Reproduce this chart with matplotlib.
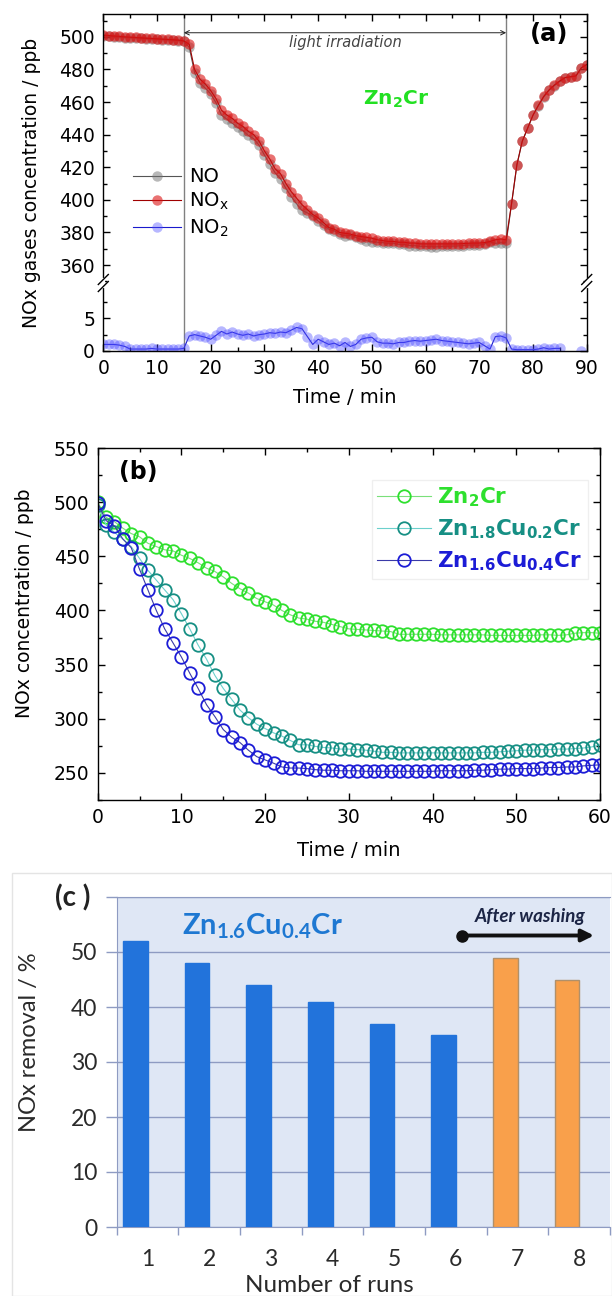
import numpy as np
import matplotlib
matplotlib.use("Agg")
import matplotlib.pyplot as plt
from matplotlib.ticker import MultipleLocator
from matplotlib.lines import Line2D
from matplotlib.patches import Rectangle

plt.rcParams['font.family'] = ['DejaVu Sans']
plt.rcParams['mathtext.default'] = 'regular'

# ---------------- panel (a): Zn2Cr, NO / NOx / NO2 vs time ----------------
time_a = np.arange(0, 91)
nox_a = [501.0, 500.8, 500.5, 500.3, 500.0, 499.8, 499.6, 499.4, 499.2, 499.0,
         498.8, 498.6, 498.4, 498.2, 498.0, 497.5, 495.5, 480, 474, 471,
         467, 462, 455, 452, 450, 447, 445, 442, 440, 436,
         430, 425, 419, 416, 410, 405, 401, 397, 394, 391,
         389, 386, 383, 382, 380, 379.5, 379, 378, 377.5, 377,
         376.5, 375.5, 375, 374.5, 374.5, 374, 374, 373.5, 373.5, 373,
         373, 373, 373, 373, 373, 373, 373, 373.2, 373.4, 373.5,
         373.5, 373.8, 374.5, 375.5, 376, 375.5, 397.5, 421.5, 436, 444,
         452, 458, 463.5, 467.5, 470.5, 473, 475, 475.5, 476, 481, 483]
no_a = [500.5, 500.3, 500.0, 499.8, 499.5, 499.5, 499.3, 499.1, 498.9, 498.7,
        498.5, 498.3, 498.1, 497.9, 497.7, 497.2, 493.5, 478, 471.5, 468.5,
        465, 459.5, 452, 449.5, 447, 444.5, 442.5, 439.5, 437.5, 433.5,
        427.5, 422, 416.5, 413, 407, 402, 397.5, 393.5, 392, 390,
        387, 384.5, 382, 381, 379, 378, 378.2, 377, 375.7, 375,
        374.3, 374, 373.8, 373.3, 373.4, 372.7, 372.7, 372, 371.9, 371.5,
        371.4, 371.3, 371.2, 371.4, 371.5, 371.6, 371.7, 372, 372.3, 372.3,
        372.2, 373, 374.2, 373.3, 373.7, 373.5, 397.2, 421.3, 435.8, 443.8,
        451.8, 457.7, 463.1, 467.2, 470.1, 472.6, 475, 475.5, 476, 481, 483]
no2_a = [1.0, 1.0, 1.0, 0.9, 0.7, 0.3, 0.3, 0.3, 0.3, 0.4,
         0.3, 0.3, 0.3, 0.3, 0.3, 0.4, 2.3, 2.5, 2.3, 2.1,
         1.8, 2.4, 3.0, 2.6, 2.9, 2.6, 2.4, 2.6, 2.3, 2.5,
         2.6, 2.8, 2.7, 2.9, 2.8, 3.2, 3.6, 3.4, 2.2, 1.0,
         1.8, 1.4, 1.0, 1.2, 0.8, 1.3, 0.7, 1.0, 1.8, 2.0,
         2.1, 1.4, 1.2, 1.2, 1.1, 1.3, 1.3, 1.5, 1.6, 1.5,
         1.6, 1.7, 1.8, 1.6, 1.5, 1.4, 1.3, 1.2, 1.1, 1.2,
         1.3, 0.8, 0.3, 2.2, 2.3, 2.0, 0.3, 0.2, 0.2, 0.2,
         0.2, 0.3, 0.5, 0.3, 0.4, 0.4, np.nan, np.nan, np.nan, 0.0, np.nan]
light_on, light_off = 15, 75

# ---------------- panel (b): NOx vs time for three catalysts ----------------
time_b = np.arange(0, 61)
zn2cr = [500, 486, 482, 476, 471, 468, 462, 459, 456, 455,
         451, 448, 444, 439, 436, 431, 425, 420, 416, 411,
         408, 405, 400, 396, 393, 392, 390, 389, 387, 385,
         383, 382.5, 382, 381.5, 381, 380.5, 378, 378, 378, 378,
         378, 377.5, 377.5, 377.5, 377.5, 377.5, 377.5, 377, 377, 377,
         377, 377, 377, 377.5, 377.5, 377, 377.5, 379, 379.5, 379.5, 379]
zn18cu02 = [497, 479, 472, 466, 459, 448, 437, 428, 419, 410,
            397, 383, 368, 355, 340, 328, 318, 308, 301, 295,
            291, 287, 284, 280, 276, 276, 274.5, 273.5, 273, 272,
            272, 271.5, 271, 270, 269, 269, 268.5, 268.5, 268.5, 268.5,
            268.5, 268.5, 268.5, 268.5, 268.5, 268.5, 269, 269, 269.5, 270,
            270.5, 271, 271, 271.5, 271.5, 272, 272, 272.5, 273, 274, 276]
zn16cu04 = [499, 483, 478, 466, 458, 438, 419, 400, 383, 370,
            357, 342, 328, 313, 302, 290, 283, 278, 271, 265,
            262, 259, 255.5, 254.5, 254.5, 254, 253, 252.5, 252.5, 252,
            252, 252, 251.5, 251.5, 251.5, 251.5, 251.5, 251.5, 251.5, 251.5,
            251.5, 252, 252, 252, 252, 252.5, 252.5, 253, 253.5, 253.5,
            254, 254, 254, 254.5, 255, 255, 255.5, 255.5, 256.5, 257, 257.5]
labels_b = ['Zn$_2$Cr', 'Zn$_{1.8}$Cu$_{0.2}$Cr', 'Zn$_{1.6}$Cu$_{0.4}$Cr']

# ---------------- panel (c): recycling runs ----------------
runs = np.arange(1, 9)
removal = [52, 48, 44, 41, 37, 35, 49, 45]
washed = [False, False, False, False, False, False, True, True]

W, H = 612, 1296
fig = plt.figure(figsize=(W / 100, H / 100), dpi=100)


def fx(px):
    return px / W


def fy(py):
    return 1 - py / H


# ===== (a) =====
axL, axR, a_top, a_brk, a_bot = 103.3, 586.7, 14, 283, 351
ax1 = fig.add_axes([fx(axL), fy(a_brk), fx(axR - axL), (a_brk - a_top) / H])
ax2 = fig.add_axes([fx(axL), fy(a_bot), fx(axR - axL), (a_bot - a_brk) / H])

l_no, = ax1.plot(time_a, no_a, '-o', color='#555555', lw=0.8, ms=7.5,
                 mfc=(0.45, 0.45, 0.45, 0.5), mec='none', label='NO')
l_nox, = ax1.plot(time_a, nox_a, '-o', color='#a00000', lw=0.8, ms=7.5,
                  mfc=(0.86, 0.08, 0.08, 0.6), mec='none', label='NO$_x$')
l_no2, = ax2.plot(time_a, no2_a, '-o', color='#1a1acc', lw=0.8, ms=7.5,
                  mfc=(0.3, 0.3, 1.0, 0.4), mec='none', label='NO$_2$')

for ax in (ax1, ax2):
    ax.axvline(light_on, color='#808080', lw=1, zorder=0)
    ax.axvline(light_off, color='#808080', lw=1, zorder=0)
    ax.set_xlim(0, 90)
    ax.xaxis.set_major_locator(MultipleLocator(10))
    ax.xaxis.set_minor_locator(MultipleLocator(5))
    ax.tick_params(which='both', direction='in', width=1, labelsize=13.5,
                   right=True, top=True, pad=6)
    ax.tick_params(which='major', length=5)
    ax.tick_params(which='minor', length=3)
    for s in ax.spines.values():
        s.set_linewidth(1.0)

ax1.set_ylim(349, 514)
ax1.yaxis.set_major_locator(MultipleLocator(20))
ax1.yaxis.set_minor_locator(MultipleLocator(10))
ax1.spines['bottom'].set_visible(False)
ax1.tick_params(which='both', bottom=False, labelbottom=False)

ax2.set_ylim(0, 10.4)
ax2.set_yticks([0, 5])
ax2.set_yticks([2.5, 7.5], minor=True)
ax2.spines['top'].set_visible(False)
ax2.tick_params(which='both', top=False)

# break marks on both side spines
for xs in (axL, axR):
    fig.add_artist(Line2D([fx(xs), fx(xs)], [fy(a_brk + 3), fy(a_brk - 3)],
                          color='white', lw=3, transform=fig.transFigure))
    for off in (-3.5, 3.5):
        fig.add_artist(Line2D([fx(xs - 5), fx(xs + 5)],
                              [fy(a_brk + off + 5), fy(a_brk + off - 5)],
                              color='black', lw=1, transform=fig.transFigure))

ax1.annotate('', xy=(light_off, 502.5), xytext=(light_on, 502.5),
             arrowprops=dict(arrowstyle='<->', lw=0.7, color='#222222',
                             shrinkA=0, shrinkB=0, mutation_scale=8))
ax1.text(45, 496.5, 'light irradiation', style='italic', color='#444444',
         fontsize=10.5, ha='center', va='center')
ax1.text(54.6, 461.5, 'Zn$_2$Cr', color='#22e022', fontsize=14.5,
         fontweight='bold', ha='center', va='center')
ax1.text(0.922, 0.926, '(a)', transform=ax1.transAxes, fontsize=17.5,
         fontweight='bold', ha='center', va='center')
ax1.legend(handles=[l_no, l_nox, l_no2], loc='upper left',
           bbox_to_anchor=(0.061, 0.43), frameon=False, fontsize=14,
           handlelength=2.5, handletextpad=0.4, labelspacing=0.25,
           borderpad=0, borderaxespad=0)

fig.text(fx(32), fy(183), 'NOx gases concentration / ppb', rotation=90,
         fontsize=13.5, ha='center', va='center')
fig.text(fx(345), fy(398), 'Time / min', fontsize=14, ha='center', va='center')

# ===== (b) =====
bL, bR, b_top, b_bot = 97.7, 600, 448, 800
axb = fig.add_axes([fx(bL), fy(b_bot), fx(bR - bL), (b_bot - b_top) / H])
styles_b = [('#7ae07a', '#2ee02e'), ('#6cd0cc', '#168f84'), ('#3a3aa8', '#1c1cd6')]
for vals, lab, (lc, mc) in zip([zn2cr, zn18cu02, zn16cu04], labels_b, styles_b):
    axb.plot(time_b, vals, '-o', color=lc, lw=0.8, ms=9, mfc='none',
             mec=mc, mew=1.3, label=lab)
axb.set_xlim(0, 60)
axb.set_ylim(225, 550)
axb.xaxis.set_major_locator(MultipleLocator(10))
axb.xaxis.set_minor_locator(MultipleLocator(5))
axb.yaxis.set_major_locator(MultipleLocator(50))
axb.yaxis.set_minor_locator(MultipleLocator(25))
axb.tick_params(which='both', direction='in', width=1, labelsize=13.5,
                right=True, top=True, pad=6)
axb.tick_params(which='major', length=5)
axb.tick_params(which='minor', length=3)
for s in axb.spines.values():
    s.set_linewidth(1.0)
leg = axb.legend(loc='upper left', bbox_to_anchor=(0.5455, 0.909),
                 borderaxespad=0, handlelength=2.5,
                 handletextpad=0.3, labelspacing=0.4, borderpad=0.25,
                 fancybox=False, edgecolor='#ececec',
                 prop=dict(weight='bold', size=15.5))
for txt, (lc, mc) in zip(leg.get_texts(), styles_b):
    txt.set_color(mc)
axb.text(0.08, 0.932, '(b)', transform=axb.transAxes, fontsize=17,
         fontweight='bold', ha='center', va='center')
fig.text(fx(25), fy(603), 'NOx concentration / ppb', rotation=90,
         fontsize=13.5, ha='center', va='center')
fig.text(fx(349), fy(850), 'Time / min', fontsize=14, ha='center', va='center')

# ===== (c) =====
fig.add_artist(Rectangle((fx(11.7), 0), 1 - fx(11.7), fy(872.7),
                         transform=fig.transFigure, facecolor='white',
                         edgecolor='#e4e4e4', lw=1, zorder=-5))
cL, cR, c_top, c_bot = 116.7, 610, 897, 1227
axc = fig.add_axes([fx(cL), fy(c_bot), fx(cR - cL), (c_bot - c_top) / H])
grid_c = '#8e9bc2'
axc.set_facecolor('#dfe7f5')
bar_colors = ['#f9a04b' if w else '#2273db' for w in washed]
edge_colors = ['#b0906a' if w else '#2273db' for w in washed]
axc.bar(runs - 0.2, removal, width=0.4, color=bar_colors,
        edgecolor=edge_colors, lw=1, zorder=3)
axc.set_xlim(0.5, 8.5)
axc.set_ylim(0, 60)
axc.set_yticks(range(0, 70, 10), ['0', '10', '20', '30', '40', '50', ''])
axc.yaxis.grid(True, color=grid_c, lw=1)
axc.set_axisbelow(True)
axc.set_xticks(runs)
axc.set_xticks(np.arange(0.5, 9, 1), minor=True)
axc.tick_params(axis='x', which='major', length=0, pad=16)
axc.tick_params(axis='x', which='minor', length=6, color=grid_c, width=1)
axc.tick_params(axis='y', length=8, color=grid_c, width=1, pad=6)
axc.tick_params(axis='both', which='major', labelsize=16.5,
                labelfontfamily='Lato', labelcolor='#2a2a2a')
for side in ('left', 'bottom', 'top'):
    axc.spines[side].set_color(grid_c)
axc.spines['right'].set_visible(False)

axc.text(1.56, 53.2, 'Zn$_{1.6}$Cu$_{0.4}$Cr', family='Lato', fontsize=21,
         fontweight='bold', color='#1e78d2', ha='left', va='baseline')
axc.text(7.21, 56.4, 'After washing', family='Lato', style='italic',
         fontweight='bold', fontsize=13.5, color='#1c2545', ha='center',
         va='center')
axc.annotate('', xy=(8.24, 53), xytext=(6.1, 53),
             arrowprops=dict(arrowstyle='-|>', lw=2.8, color='#111111',
                             shrinkA=0, shrinkB=0, mutation_scale=18))
axc.plot([6.1], [53], 'o', color='#111111', ms=8, zorder=5)

fig.text(fx(72.5), fy(898), '(c )', family='Lato', fontsize=20,
         fontweight='bold', color='#222222', ha='center', va='center')
fig.text(fx(30), fy(1042), 'NOx removal / %', family='Lato', rotation=90,
         fontsize=17, color='#2a2a2a', ha='center', va='center')
fig.text(fx(329), fy(1286), 'Number of runs', family='Lato', fontsize=17.5,
         color='#2a2a2a', ha='center', va='center')

fig.savefig('out.png', dpi=100)
